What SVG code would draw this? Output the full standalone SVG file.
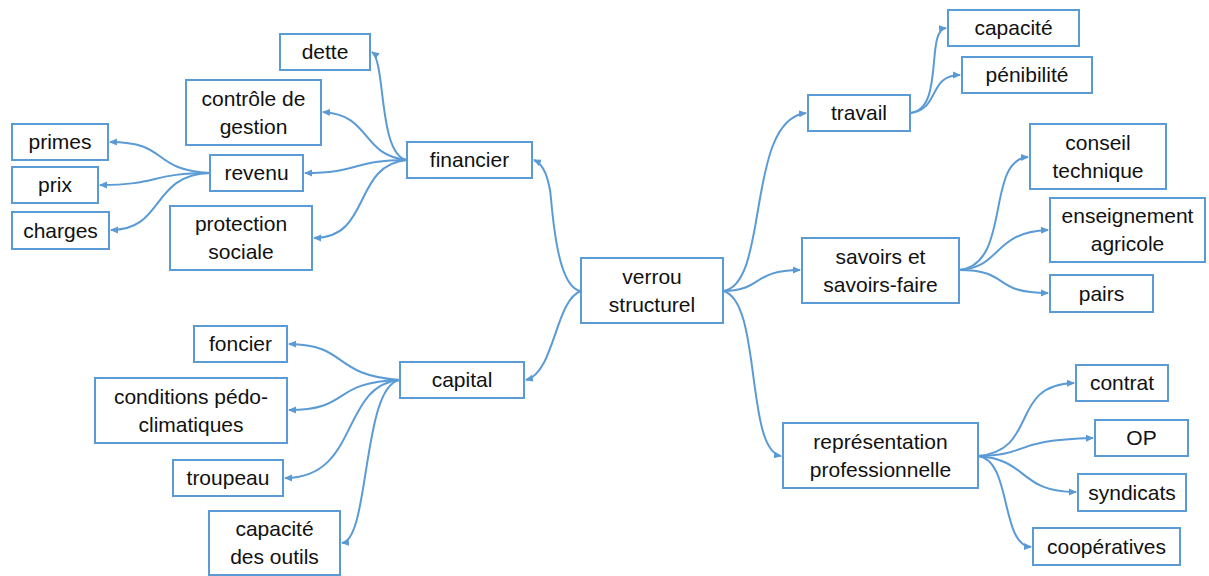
<svg xmlns="http://www.w3.org/2000/svg" width="1209" height="576" viewBox="0 0 1209 576">
<style>
.b{fill:#fff;stroke:#5B9BD5;stroke-width:2}
.t{font-family:"Liberation Sans",Arial,sans-serif;font-size:21px;fill:#111;text-anchor:middle}
.c{fill:none;stroke:#5B9BD5;stroke-width:2;marker-end:url(#a)}
</style>
<defs>
<marker id="a" markerWidth="8" markerHeight="8" refX="7" refY="4" orient="auto" markerUnits="userSpaceOnUse">
<path d="M0,0.5 L8,4 L0,7.5 Z" fill="#5B9BD5"/>
</marker>
</defs>
<rect width="1209" height="576" fill="#fff"/>
<g id="connectors">
<path class="c" d="M581,291 C555,288 552,200 550,190 S545,165 534,160"/>
<path class="c" d="M581,291 C555,300 555,372 526,380"/>
<path class="c" d="M723,291 C770,285 745,120 806,113"/>
<path class="c" d="M723,291 C762,291 752,270 800,270"/>
<path class="c" d="M723,291 C762,300 745,450 781,456"/>
<path class="c" d="M910,113 C945,110 925,30 946,28"/>
<path class="c" d="M910,113 C940,110 928,75 960,75"/>
<path class="c" d="M959,270 C1012,265 985,160 1028,157"/>
<path class="c" d="M959,270 C1002,268 992,232 1048,230"/>
<path class="c" d="M959,270 C1012,270 990,293 1048,293"/>
<path class="c" d="M978,456 C1040,450 1008,385 1074,383"/>
<path class="c" d="M978,456 C1032,455 1010,440 1093,438"/>
<path class="c" d="M978,456 C1030,460 1018,492 1076,492"/>
<path class="c" d="M978,456 C1012,460 1000,545 1031,547"/>
<path class="c" d="M407,160 C378,155 386,62 372,52"/>
<path class="c" d="M407,160 C360,155 372,115 323,112"/>
<path class="c" d="M407,160 C352,160 360,173 305,173"/>
<path class="c" d="M407,160 C352,165 372,238 314,238"/>
<path class="c" d="M210,173 C150,170 170,142 110,142"/>
<path class="c" d="M210,173 C150,173 160,185 100,185"/>
<path class="c" d="M210,173 C150,175 165,230 111,230"/>
<path class="c" d="M400,380 C330,375 350,345 289,344"/>
<path class="c" d="M400,380 C330,382 352,410 289,410"/>
<path class="c" d="M400,380 C340,385 360,478 285,478"/>
<path class="c" d="M400,380 C362,385 370,540 342,543"/>
</g>
<g id="verrou"><rect class="b" x="581" y="258" width="142" height="65"/><text class="t" x="652" y="283.5">verrou</text><text class="t" x="652" y="311.5">structurel</text></g>
<g id="financier"><rect class="b" x="407" y="142" width="125" height="36"/><text class="t" x="469.5" y="167">financier</text></g>
<g id="dette"><rect class="b" x="280" y="34" width="90" height="36"/><text class="t" x="325" y="59">dette</text></g>
<g id="controle"><rect class="b" x="186" y="80" width="135" height="65"/><text class="t" x="253.5" y="105.5">contrôle de</text><text class="t" x="253.5" y="133.5">gestion</text></g>
<g id="revenu"><rect class="b" x="210" y="155" width="93" height="36"/><text class="t" x="256.5" y="180">revenu</text></g>
<g id="primes"><rect class="b" x="12" y="124" width="96" height="36"/><text class="t" x="60" y="149">primes</text></g>
<g id="prix"><rect class="b" x="12" y="167" width="86" height="36"/><text class="t" x="55" y="192">prix</text></g>
<g id="charges"><rect class="b" x="12" y="212" width="97" height="37"/><text class="t" x="60.5" y="237.5">charges</text></g>
<g id="protection"><rect class="b" x="170" y="206" width="142" height="64"/><text class="t" x="241" y="231">protection</text><text class="t" x="241" y="259">sociale</text></g>
<g id="capital"><rect class="b" x="400" y="362" width="124" height="36"/><text class="t" x="462" y="387">capital</text></g>
<g id="foncier"><rect class="b" x="194" y="326" width="93" height="36"/><text class="t" x="240.5" y="351">foncier</text></g>
<g id="conditions"><rect class="b" x="95" y="378" width="192" height="65"/><text class="t" x="191" y="403.5">conditions pédo-</text><text class="t" x="191" y="431.5">climatiques</text></g>
<g id="troupeau"><rect class="b" x="173" y="460" width="110" height="36"/><text class="t" x="228" y="485">troupeau</text></g>
<g id="outils"><rect class="b" x="209" y="511" width="131" height="64"/><text class="t" x="274.5" y="536">capacité</text><text class="t" x="274.5" y="564">des outils</text></g>
<g id="travail"><rect class="b" x="808" y="95" width="102" height="36"/><text class="t" x="859" y="120">travail</text></g>
<g id="capacite"><rect class="b" x="948" y="10" width="131" height="36"/><text class="t" x="1013.5" y="35">capacité</text></g>
<g id="penibilite"><rect class="b" x="962" y="57" width="130" height="36"/><text class="t" x="1027" y="82">pénibilité</text></g>
<g id="savoirs"><rect class="b" x="802" y="238" width="157" height="65"/><text class="t" x="880.5" y="263.5">savoirs et</text><text class="t" x="880.5" y="291.5">savoirs-faire</text></g>
<g id="conseil"><rect class="b" x="1030" y="124" width="136" height="65"/><text class="t" x="1098" y="149.5">conseil</text><text class="t" x="1098" y="177.5">technique</text></g>
<g id="enseignement"><rect class="b" x="1050" y="198" width="155" height="64"/><text class="t" x="1127.5" y="223">enseignement</text><text class="t" x="1127.5" y="251">agricole</text></g>
<g id="pairs"><rect class="b" x="1050" y="275" width="103" height="37"/><text class="t" x="1101.5" y="300.5">pairs</text></g>
<g id="representation"><rect class="b" x="783" y="423" width="195" height="65"/><text class="t" x="880.5" y="448.5">représentation</text><text class="t" x="880.5" y="476.5">professionnelle</text></g>
<g id="contrat"><rect class="b" x="1076" y="365" width="92" height="36"/><text class="t" x="1122" y="390">contrat</text></g>
<g id="op"><rect class="b" x="1095" y="420" width="93" height="36"/><text class="t" x="1141.5" y="445">OP</text></g>
<g id="syndicats"><rect class="b" x="1078" y="474" width="108" height="37"/><text class="t" x="1132" y="499.5">syndicats</text></g>
<g id="cooperatives"><rect class="b" x="1033" y="528" width="147" height="37"/><text class="t" x="1106.5" y="553.5">coopératives</text></g>
</svg>
